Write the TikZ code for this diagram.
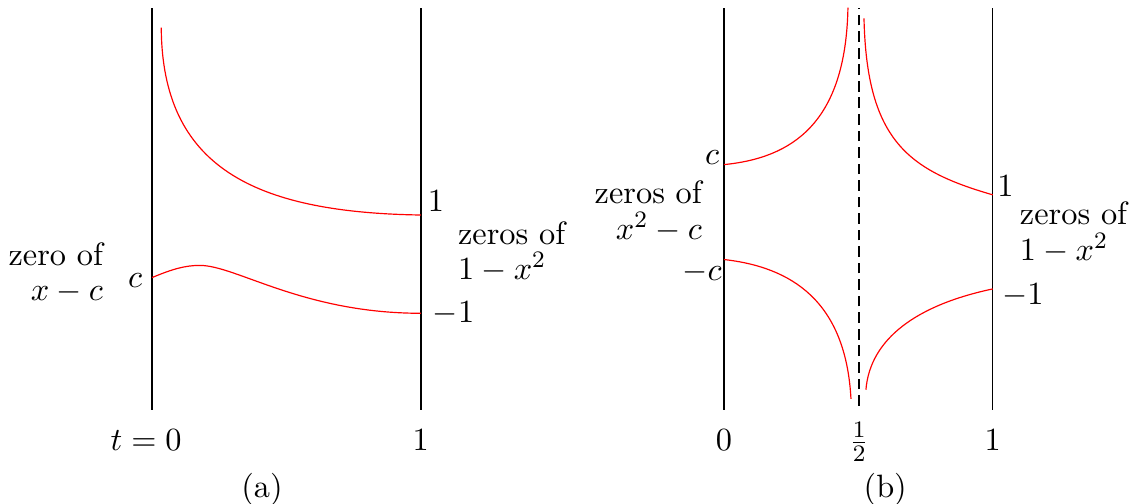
\documentclass[tikz,border=0pt]{standalone}
\begin{document}
\begin{tikzpicture}[font=\fontsize{10.95}{12}\selectfont,
    curve/.style={red}, axis/.style={black, line width=0.5pt}]
  \useasboundingbox (-1.81,-1.12) rectangle (11.68,4.88);
  % (a)
  \draw[axis] (0,0) -- (0,4.79);
  \draw[axis] (3.2,0) -- (3.2,4.79);
  \draw[curve] (0.11,4.55) .. controls (0.12,2.9) and (1.2,2.35) .. (3.2,2.32);
  \draw[curve] (0,1.575) .. controls (0.25,1.68) and (0.4,1.72) .. (0.57,1.72)
    .. controls (1.0,1.72) and (1.8,1.15) .. (3.2,1.15);
  \node (ca) at (-0.20,1.54) {$c$};
  \node[align=right, anchor=east] (zeroa) at (-0.46,1.63) {zero of\\$x-c$};
  \node (onea) at (3.38,2.48) {$1$};
  \node (mina) at (3.59,1.15) {$-1$};
  \node[align=left, anchor=west] (zerosa) at (3.52,1.88) {zeros of\\$1-x^2$};
  \node (ta) at (-0.07,-0.36) {$t=0$};
  \node (enda) at (3.2,-0.36) {$1$};
  \node (capa) at (1.31,-0.95) {(a)};
  % (b)
  \begin{scope}[xshift=6.81cm]
    \draw[axis] (0,0) -- (0,4.79);
    \draw[axis] (3.2,0) -- (3.2,4.79);
    \draw[axis, dash pattern=on 3.6pt off 2pt] (1.61,0.05) -- (1.61,4.79);
    \draw[curve] (0,2.92) .. controls (0.8,3.0) and (1.45,3.4) .. (1.476,4.79);
    \draw[curve] (1.667,4.66) .. controls (1.70,3.2) and (2.2,2.85) .. (3.2,2.56);
    \draw[curve] (0,1.79) .. controls (0.8,1.7) and (1.45,1.3) .. (1.512,0.13);
    \draw[curve] (1.69,0.24) .. controls (1.74,0.85) and (2.3,1.25) .. (3.2,1.44);
    \node (cb) at (-0.14,3.01) {$c$};
    \node (mcb) at (-0.26,1.64) {$-c$};
    \node[align=right, anchor=east] (zerosl) at (-0.14,2.36) {zeros of\\$x^2-c$};
    \node (oneb) at (3.35,2.67) {$1$};
    \node (minb) at (3.56,1.36) {$-1$};
    \node[align=left, anchor=west] (zerosr) at (3.40,2.11) {zeros of\\$1-x^2$};
    \node (zerob) at (0,-0.36) {$0$};
    \node (halfb) at (1.61,-0.38) {$\frac{1}{2}$};
    \node (endb) at (3.2,-0.36) {$1$};
    \node (capb) at (1.92,-0.95) {(b)};
  \end{scope}
\end{tikzpicture}
\end{document}
